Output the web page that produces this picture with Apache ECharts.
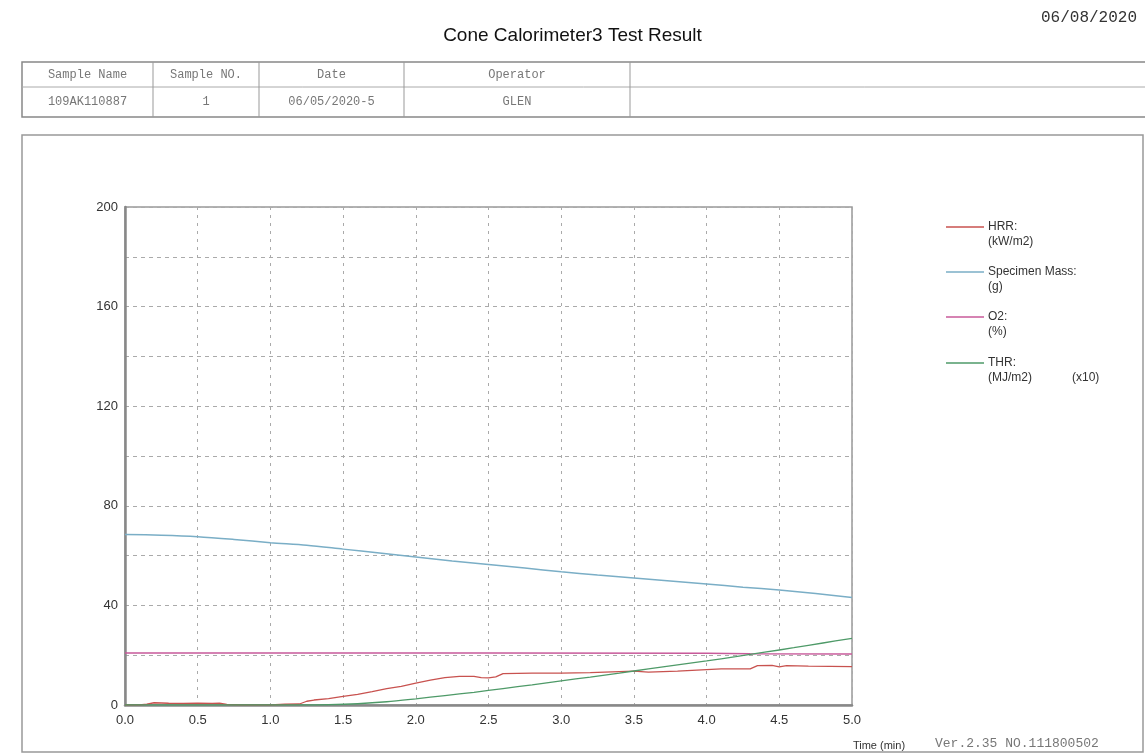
<!DOCTYPE html>
<html>
<head>
<meta charset="utf-8">
<script src="https://cdn.jsdelivr.net/npm/echarts@6/dist/echarts.min.js"></script>
<style>html,body{margin:0;padding:0;background:#fff;}#c{width:1145px;height:754px;}</style>
</head>
<body>
<div id="c"></div>
<script>
// ---- data ----
const xTicks = [0, 0.5, 1, 1.5, 2, 2.5, 3, 3.5, 4, 4.5, 5];
const yTickLabels = [0, 40, 80, 120, 160, 200];
const seriesNames = ['HRR:', 'Specimen Mass:', 'O2:', 'THR:'];
const seriesUnits = ['(kW/m2)', '(g)', '(%)', '(MJ/m2)'];
const hrr = [[0,0],[0.1,0],[0.15,0.3],[0.2,0.9],[0.3,0.7],[0.4,0.6],[0.5,0.7],[0.6,0.6],[0.65,0.7],[0.7,0.2],[0.8,0],[1.0,0],[1.1,0.3],[1.2,0.4],[1.25,1.5],[1.3,2.0],[1.4,2.6],[1.5,3.5],[1.6,4.3],[1.7,5.4],[1.8,6.6],[1.9,7.5],[2.0,8.8],[2.1,10.0],[2.2,11.0],[2.3,11.5],[2.4,11.5],[2.45,11.0],[2.5,10.9],[2.55,11.3],[2.6,12.6],[2.8,12.8],[3.0,12.8],[3.2,13.0],[3.4,13.4],[3.5,13.6],[3.6,13.2],[3.8,13.6],[4.0,14.2],[4.1,14.5],[4.3,14.5],[4.35,15.8],[4.45,15.9],[4.5,15.3],[4.55,15.8],[4.7,15.6],[5.0,15.4]];
const mass = [[0,68.5],[0.25,68.2],[0.5,67.6],[0.75,66.5],[1.0,65.2],[1.25,64.2],[1.5,62.6],[1.75,61.0],[2.0,59.4],[2.25,57.8],[2.5,56.4],[2.75,55.0],[3.0,53.5],[3.25,52.2],[3.5,51.0],[3.75,49.8],[4.0,48.6],[4.25,47.3],[4.5,46.2],[4.75,44.8],[5.0,43.2]];
const o2 = [[0,20.9],[2.5,20.9],[4.0,20.8],[4.3,20.6],[5.0,20.5]];
const thr = [[0,0],[1.2,0],[1.4,0.1],[1.6,0.5],[1.8,1.3],[2.0,2.5],[2.2,3.8],[2.4,5.1],[2.6,6.6],[2.8,8.1],[3.0,9.7],[3.2,11.2],[3.4,12.8],[3.6,14.5],[3.8,16.1],[4.0,17.7],[4.2,19.4],[4.4,21.2],[4.6,23.0],[4.8,24.9],[5.0,26.8]];
const colors = ['#c8524f', '#7aaec6', '#c85a9a', '#4e9a68'];
const tableHeaders = ['Sample Name', 'Sample NO.', 'Date', 'Operator'];
const tableValues = ['109AK110887', '1', '06/05/2020-5', 'GLEN'];
// ---- layout ----
const colX = [22, 153, 259, 404, 630, 1145];
const mono = '"Liberation Mono", "DejaVu Sans Mono", monospace';
const sans = '"Liberation Sans", Arial, sans-serif';

const graphics = [];
// outer frame
graphics.push({type:'rect', shape:{x:22, y:135, width:1121, height:617}, style:{fill:'none', stroke:'#999', lineWidth:1.5}, z:-1});
// table
graphics.push({type:'rect', shape:{x:22, y:62, width:1130, height:55}, style:{fill:'none', stroke:'#888', lineWidth:1.5}});
graphics.push({type:'line', shape:{x1:22, y1:87, x2:1145, y2:87}, style:{stroke:'#aaa', lineWidth:1}});
for (let i = 1; i < colX.length - 1; i++) {
  graphics.push({type:'line', shape:{x1:colX[i], y1:62, x2:colX[i], y2:117}, style:{stroke:'#999', lineWidth:1}});
}
for (let i = 0; i < tableHeaders.length; i++) {
  const cx = (colX[i] + colX[i+1]) / 2;
  graphics.push({type:'text', x:cx, y:75, style:{text:tableHeaders[i], font:'12px ' + mono, fill:'#777', align:'center', verticalAlign:'middle'}});
  graphics.push({type:'text', x:cx, y:102, style:{text:tableValues[i], font:'12px ' + mono, fill:'#777', align:'center', verticalAlign:'middle'}});
}
// legend
const legY = [227, 272, 317, 363];
for (let i = 0; i < seriesNames.length; i++) {
  graphics.push({type:'line', shape:{x1:946, y1:legY[i], x2:984, y2:legY[i]}, style:{stroke:colors[i], lineWidth:1.5}});
  graphics.push({type:'text', x:988, y:legY[i], style:{text:seriesNames[i], font:'12px ' + sans, fill:'#333', verticalAlign:'middle'}});
  graphics.push({type:'text', x:988, y:legY[i] + 15, style:{text:seriesUnits[i], font:'12px ' + sans, fill:'#333', verticalAlign:'middle'}});
}
graphics.push({type:'text', x:1072, y:legY[3] + 15, style:{text:'(x10)', font:'12px ' + sans, fill:'#333', verticalAlign:'middle'}});
// footer
graphics.push({type:'text', x:935, y:744, style:{text:'Ver.2.35 NO.111800502', font:'13px ' + mono, fill:'#777', verticalAlign:'middle'}});
graphics.push({type:'text', x:1041, y:18, style:{text:'06/08/2020', font:'16px ' + mono, fill:'#333', verticalAlign:'middle'}});

const chart = echarts.init(document.getElementById('c'));
chart.setOption({
  backgroundColor: '#fff',
  animation: false,
  title: {text: 'Cone Calorimeter3 Test Result', left: 'center', top: 21, textStyle: {fontFamily: sans, fontSize: 19, fontWeight: 'normal', color: '#111'}},
  grid: {left: 125, top: 207, right: 293, bottom: 49, show: true, borderColor: '#999', borderWidth: 1.5},
  xAxis: {
    type: 'value', min: 0, max: 5, interval: 0.5,
    name: 'Time (min)', nameLocation: 'end', nameGap: 0,
    nameTextStyle: {fontFamily: sans, fontSize: 11, color: '#333', verticalAlign: 'top', align: 'center', padding: [35, 0, 0, 54]},
    axisLine: {show: true, lineStyle: {color: '#888', width: 2.5}},
    axisTick: {show: false},
    axisLabel: {fontFamily: sans, fontSize: 13, color: '#333', margin: 9, formatter: v => xTicks.includes(v) ? v.toFixed(1) : ''},
    splitLine: {show: true, lineStyle: {color: '#aaa', type: [3, 5], width: 1}}
  },
  yAxis: {
    type: 'value', min: 0, max: 200, interval: 20,
    axisLine: {show: true, lineStyle: {color: '#888', width: 2.5}},
    axisTick: {show: false},
    axisLabel: {fontFamily: sans, fontSize: 13, color: '#333', margin: 7, formatter: v => yTickLabels.includes(v) ? String(v) : ''},
    splitLine: {show: true, lineStyle: {color: '#aaa', type: [4, 4], width: 1}}
  },
  graphic: graphics,
  series: [
    {name: seriesNames[0], type: 'line', data: hrr, showSymbol: false, lineStyle: {color: colors[0], width: 1.3}, z: 5},
    {name: seriesNames[1], type: 'line', data: mass, showSymbol: false, smooth: 0.3, lineStyle: {color: colors[1], width: 1.5}, z: 4},
    {name: seriesNames[2], type: 'line', data: o2, showSymbol: false, lineStyle: {color: colors[2], width: 1.5}, z: 3},
    {name: seriesNames[3], type: 'line', data: thr, showSymbol: false, smooth: 0.3, lineStyle: {color: colors[3], width: 1.3}, z: 6}
  ]
});
</script>
</body>
</html>
